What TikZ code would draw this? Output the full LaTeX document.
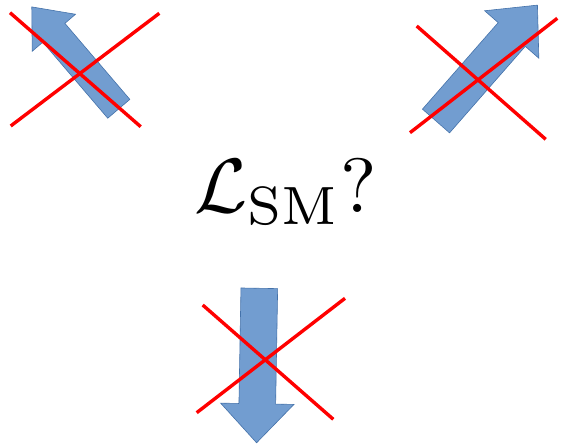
\documentclass[tikz,border=0pt]{standalone}
\usepackage{amsmath}
\definecolor{arrowfill}{RGB}{114,157,208}
\definecolor{arrowedge}{RGB}{68,114,170}
\definecolor{crossred}{RGB}{255,0,0}
\tikzset{
  blockarrow/.style={fill=arrowfill, draw=arrowedge, line width=0.6pt, line join=miter},
  crossline/.style={draw=crossred, line width=3.4pt},
}
% #1 base x, #2 base y, #3 angle, #4 length, #5 shaft width, #6 head width, #7 head length
\newcommand{\myblockarrow}[7]{%
  \begin{scope}[shift={(#1,#2)}, rotate=#3]
    \draw[blockarrow] (0,-#5/2) -- ({#4-#7},-#5/2) -- ({#4-#7},-#6/2) -- (#4,0)
      -- ({#4-#7},#6/2) -- ({#4-#7},#5/2) -- (0,#5/2) -- cycle;
  \end{scope}}
\begin{document}
\begin{tikzpicture}[x=1pt,y=-1pt]
\useasboundingbox (0,0) rectangle (562,446);
\fill[white] (0,0) rectangle (562,446);
% arrows
\myblockarrow{118.8}{108.8}{130.5}{134}{29}{57}{34}
\myblockarrow{436}{121}{48.8}{154}{36}{72}{39}
\myblockarrow{259.3}{288.3}{-91}{154.5}{36.7}{73.3}{39}
% crosses
\coordinate (a1) at (10,12.7);
\coordinate (a2) at (140.7,126.7);
\coordinate (a3) at (159.3,13.3);
\coordinate (a4) at (10.7,126);
\coordinate (b1) at (416.7,26);
\coordinate (b2) at (545.7,139.3);
\coordinate (b3) at (557.3,18.3);
\coordinate (b4) at (410,132.7);
\coordinate (c1) at (202.7,305);
\coordinate (c2) at (333.3,419.3);
\coordinate (c3) at (345,298.3);
\coordinate (c4) at (196.7,412.7);
\draw[crossline] (a1) -- (a2);
\draw[crossline] (a3) -- (a4);
\draw[crossline] (b1) -- (b2);
\draw[crossline] (b3) -- (b4);
\draw[crossline] (c1) -- (c2);
\draw[crossline] (c3) -- (c4);
% label
\node[anchor=base west, inner sep=0pt, scale=7.7] (lsm) at (193,213) {$\mathcal{L}_{\mathrm{SM}}?$};
\end{tikzpicture}
\end{document}
